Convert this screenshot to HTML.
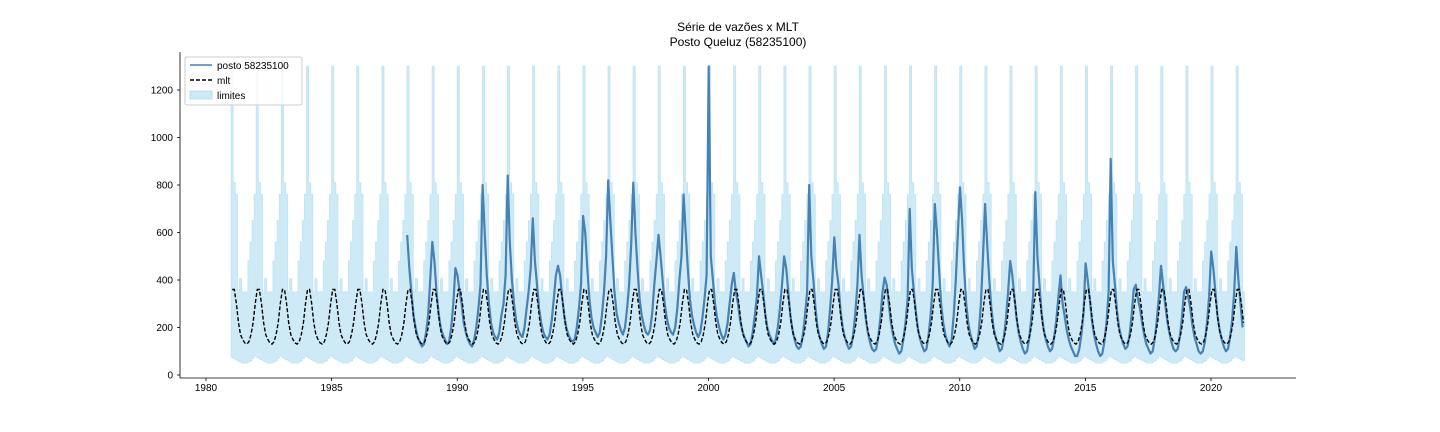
<!DOCTYPE html>
<html><head><meta charset="utf-8"><style>
body{margin:0;background:#fff;font-family:"Liberation Sans","DejaVu Sans",sans-serif}
svg{display:block}
</style></head><body>
<svg id="chart" width="1440" height="432" xmlns="http://www.w3.org/2000/svg">
<text x="738" y="31" text-anchor="middle" font-size="12">Série de vazões x MLT</text>
<text x="738" y="46" text-anchor="middle" font-size="12">Posto Queluz (58235100)</text>
<g id="plot"></g>
<g id="axes"></g>
<g>
<rect x="185" y="57" width="117" height="48" rx="2" fill="#fff" fill-opacity="0.8" stroke="#ccc"/>
<line x1="190" y1="65" x2="212" y2="65" stroke="#4682b4" stroke-width="1.5"/>
<text x="217" y="69" font-size="10">posto 58235100</text>
<line x1="190" y1="80" x2="212" y2="80" stroke="#000" stroke-width="1.5" stroke-dasharray="4,2"/>
<text x="217" y="84" font-size="10">mlt</text>
<rect x="190" y="91" width="22" height="8" fill="#cfeaf7" stroke="#b8e0f3"/>
<text x="217" y="99" font-size="10">limites</text>
</g>
</svg>
<script>
const xTicks=[1980,1985,1990,1995,2000,2005,2010,2015,2020];
const yTicks=[0,200,400,600,800,1000,1200];
const upperLim=[1300,810,760,350,405,350,350,350,480,560,650,760];
const lowerLim=[75,70,65,60,55,50,50,50,55,60,70,80];
const mltMonthly=[360,360,300,220,170,150,135,130,140,170,220,300];
const obsStartYear=1988;
const obs=[
[590,450,350,250,200,160,140,120,130,180,250,400],
[560,480,350,260,200,170,150,130,140,200,300,450],
[420,350,300,220,180,150,130,120,150,200,280,380],
[800,600,420,300,220,180,160,150,180,250,300,420],
[840,560,400,300,230,190,170,160,200,280,350,450],
[660,480,380,280,220,180,160,150,170,230,320,420],
[460,420,330,250,200,170,150,140,150,200,280,380],
[670,600,450,320,240,200,180,160,180,250,350,500],
[820,650,500,350,260,220,190,170,200,280,380,550],
[810,600,450,320,250,210,180,170,190,260,380,480],
[590,500,400,300,240,200,180,170,200,280,400,500],
[760,600,450,320,250,210,180,160,180,240,320,420],
[1300,500,400,300,240,200,170,150,170,220,300,380],
[430,350,300,230,190,160,140,120,130,180,250,330],
[500,420,350,260,200,170,150,130,150,200,280,380],
[500,450,350,250,190,150,120,110,120,170,250,350],
[800,500,400,280,200,160,130,110,120,180,280,400],
[580,450,380,270,200,160,130,110,120,170,260,380],
[590,420,330,240,180,140,110,100,110,160,240,350],
[410,380,300,220,170,130,110,90,100,150,220,320],
[700,450,350,260,190,150,120,100,110,170,250,380],
[720,600,450,300,220,170,140,120,150,250,400,600],
[790,650,450,300,220,170,140,110,120,180,300,500],
[720,550,400,280,200,160,130,100,110,160,240,350],
[480,420,330,240,180,140,110,90,100,150,230,340],
[770,500,380,260,190,150,120,100,110,160,230,330],
[420,300,250,190,150,120,100,80,80,110,170,260],
[470,400,320,230,170,130,100,80,90,140,220,350],
[910,480,380,270,200,160,130,110,120,170,250,360],
[380,320,280,220,170,130,110,90,100,150,230,330],
[460,380,300,230,180,140,110,100,110,160,240,350],
[370,330,280,210,160,130,100,90,100,140,220,330],
[520,450,350,250,190,150,120,100,110,160,230,350],
[540,400,300,200]
];
const bandStart=1981, bandEnd=2021.33;
const NS="http://www.w3.org/2000/svg";
const X=v=>206+(v-1980)*25.125;
const Y=v=>375-v*0.2375;
const plot=document.getElementById('plot'), axes=document.getElementById('axes');
function mk(tag,attrs,parent){const e=document.createElementNS(NS,tag);for(const k in attrs)e.setAttribute(k,attrs[k]);parent.appendChild(e);return e;}
let up=[],lo=[];
for(let t=bandStart;t<bandEnd-1e-6;t+=1/12){
  const m=Math.round((t-Math.floor(t+1e-6))*12)%12;
  const t2=Math.min(t+1/12,bandEnd);
  up.push([X(t),Y(upperLim[m])],[X(t2),Y(upperLim[m])]);
  lo.push([X(t),Y(lowerLim[m])],[X(t2),Y(lowerLim[m])]);
}
const pts=up.concat(lo.reverse());
const band=mk('path',{d:'M'+pts.map(p=>p[0].toFixed(1)+','+p[1].toFixed(1)).join('L')+'Z',fill:'#cfeaf7',stroke:'#bfe3f5','stroke-width':0.8},plot);


let od=[];
obs.forEach((yr,i)=>yr.forEach((v,m)=>{od.push([X(obsStartYear+i+(m+0.1)/12),Y(v)]);}));
const ol=mk('path',{d:'M'+od.map(p=>p[0].toFixed(1)+','+p[1].toFixed(1)).join('L'),fill:'none',stroke:'#4682b4','stroke-width':2.2,'stroke-linejoin':'round'},plot);


let md=[];
for(let t=bandStart;t<bandEnd;t+=1/12){const m=Math.round((t-Math.floor(t+1e-6))*12)%12;md.push([X(t+0.5/12),Y(mltMonthly[m])]);}
const ml=mk('path',{d:'M'+md.map(p=>p[0].toFixed(1)+','+p[1].toFixed(1)).join('L'),fill:'none',stroke:'#000','stroke-width':1.4,'stroke-dasharray':'4,2'},plot);


const la=mk('line',{x1:180,y1:52,x2:180,y2:378,stroke:'#000','stroke-width':0.8},axes);


const ba=mk('line',{x1:180,y1:378,x2:1296,y2:378,stroke:'#000','stroke-width':0.8},axes);


xTicks.forEach(v=>{
  mk('line',{x1:X(v),y1:378,x2:X(v),y2:381,stroke:'#000','stroke-width':0.8},axes);
  const t=mk('text',{x:X(v),y:391,'text-anchor':'middle','font-size':10},axes);t.textContent=v;
  
  
});
yTicks.forEach(v=>{
  mk('line',{x1:177,y1:Y(v),x2:180,y2:Y(v),stroke:'#000','stroke-width':0.8},axes);
  const t=mk('text',{x:173,y:Y(v)+3.5,'text-anchor':'end','font-size':10},axes);t.textContent=v;
  
  
});
</script>
</body></html>
